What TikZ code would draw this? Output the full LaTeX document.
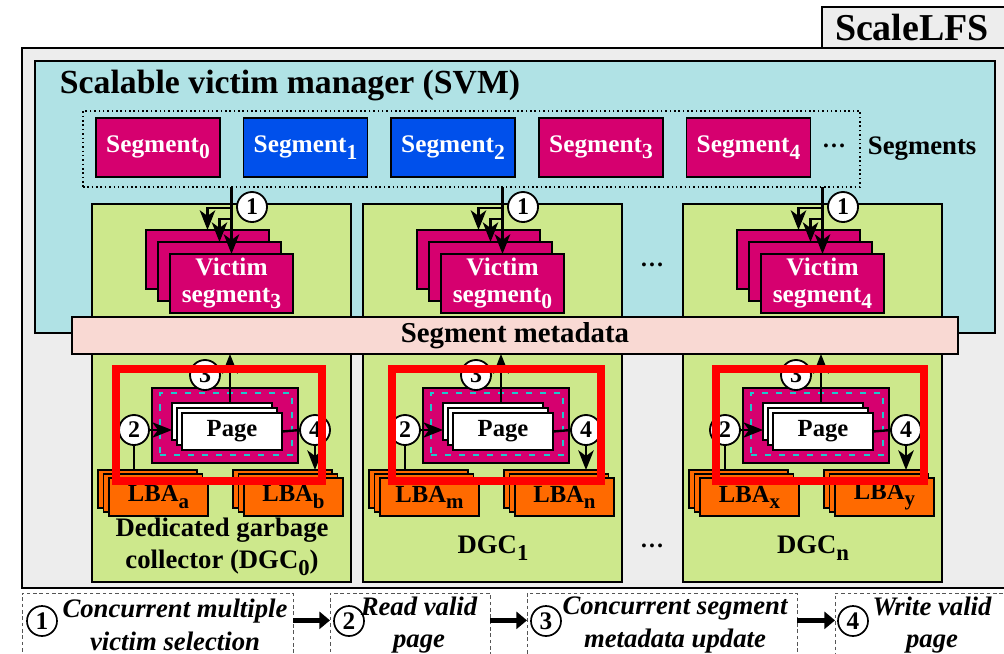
\documentclass[tikz,border=0pt]{standalone}
\usepackage{fontspec}
\setmainfont{Liberation Serif}
\usepackage{graphicx}
\usetikzlibrary{arrows.meta}
\definecolor{outerg}{HTML}{EDEDED}
\definecolor{svmc}{HTML}{B0E2E5}
\definecolor{dgcg}{HTML}{CDE88C}
\definecolor{metap}{HTML}{F9D9D3}
\definecolor{segm}{HTML}{D6006F}
\definecolor{segb}{HTML}{0050EB}
\definecolor{lbao}{HTML}{FF6A00}
\definecolor{dashc}{HTML}{1EC8CC}
\definecolor{legg}{HTML}{555555}
\newcommand\uu{0.025cm}
\newcommand\lsub[1]{\raisebox{-0.55ex}{\scalebox{0.85}{#1}}}
\tikzset{
  box/.style={draw=black, line width=1.3pt, inner sep=0pt, outer sep=0pt},
  segbox/.style={box, text=white, font=\bfseries\fontsize{18}{20}\selectfont, minimum width=124*\uu, minimum height=59*\uu},
  vict/.style={box, fill=segm, text=white, minimum width=123*\uu, minimum height=59*\uu, font=\bfseries\fontsize{18}{18}\selectfont, align=center},
  pagec/.style={box, line width=1pt, fill=white, minimum width=100*\uu, minimum height=37*\uu, font=\bfseries\fontsize{17.5}{19}\selectfont},
  lba/.style={box, line width=1pt, fill=lbao, minimum width=99*\uu, minimum height=38*\uu, font=\bfseries\fontsize{17.5}{19}\selectfont},
  num/.style={circle, draw, fill=white, line width=1.3pt, minimum size=30*\uu, inner sep=0pt, outer sep=0pt, font=\bfseries\fontsize{17}{17}\selectfont},
  lnum/.style={circle, draw, line width=1.2pt, minimum size=30*\uu, inner sep=0pt, font=\bfseries\fontsize{18}{18}\selectfont},
  conn/.style={draw=black, line width=1.7pt},
  flowarr/.style={draw=black, line width=1.7pt, -{Stealth[length=14pt,width=11pt,inset=4pt]}},
  bigarr/.style={line width=4pt, -{Triangle[length=7.5pt,width=12pt]}},
  legbox/.style={draw=legg, line width=0.7pt, dash pattern=on 2.5pt off 2pt, inner sep=0pt, outer sep=0pt},
  legtxt/.style={font=\bfseries\itshape\fontsize{19}{23}\selectfont, align=center},
  bigtxt/.style={font=\bfseries\fontsize{19}{23}\selectfont, align=center}
}
\begin{document}
\begin{tikzpicture}[x=0.025cm,y=-0.025cm]
\useasboundingbox (0,0) rectangle (1004,653);
\clip (0,0) rectangle (1004,653);
\fill[white] (0,0) rectangle (1004,653);

% ScaleLFS frame
\node[box, fill=outerg, minimum width=988*\uu, minimum height=540*\uu] (frame) at (516,318) {};
\node[box, fill=outerg, minimum width=193*\uu, minimum height=41*\uu] (lfsbox) at (918.5,27.5) {};
\node[font=\bfseries\fontsize{27}{27}\selectfont] (lfs) at (912,28) {ScaleLFS};

% SVM
\node[box, fill=svmc, minimum width=960*\uu, minimum height=272*\uu] (svm) at (515,197) {};
\node[anchor=west, font=\bfseries\fontsize{24}{24}\selectfont] (title) at (55,86) {Scalable victim manager (SVM)};

\node[draw=black, line width=1.1pt, dotted, minimum width=777*\uu, minimum height=76*\uu, inner sep=0pt, outer sep=0pt] (segbox) at (471.5,149) {};
\node[segbox, fill=segm] (s0) at (158,147.5) {Segment\lsub{0}};
\node[segbox, fill=segb] (s1) at (305.5,147.5) {Segment\lsub{1}};
\node[segbox, fill=segb] (s2) at (453,147.5) {Segment\lsub{2}};
\node[segbox, fill=segm] (s3) at (601,147.5) {Segment\lsub{3}};
\node[segbox, fill=segm] (s4) at (748.5,147.5) {Segment\lsub{4}};
\node[font=\bfseries\fontsize{17}{17}\selectfont] (sdots) at (834,146) {…};
\node[anchor=west, font=\bfseries\fontsize{19}{19}\selectfont] (segs) at (863,149) {Segments};

% DGC boxes and victim segments
\foreach \L/\i/\vs in {92/0/3, 363/1/0, 683/2/4}{
  \node[box, fill=dgcg, minimum width=259*\uu, minimum height=378*\uu] (dgc\i) at (\L+129.5,393) {};
  \node[vict] (vb\i) at (\L+115.5,259.5) {};
  \node[vict] (vm\i) at (\L+127.5,271.5) {};
  \node[vict] (vf\i) at (\L+139.5,283.5) {Victim\\[1pt]segment\lsub{\vs}};
  \coordinate (t\i) at (vf\i.north |- segbox.south);
  \coordinate (ba\i) at (\L+139.5,208);
  \coordinate (bb\i) at (\L+139.5,219);
  \draw[flowarr] (t\i) -- (vf\i.north);
  \draw[flowarr] (ba\i) -| (vb\i.north);
  \draw[flowarr] (bb\i) -| (vm\i.north);
  \node[num] (n1\i) at (\L+160,207) {1};
}
\node[font=\bfseries\fontsize{17}{17}\selectfont] (dots1) at (652,265) {…};
\node[font=\bfseries\fontsize{17}{17}\selectfont] (dots2) at (652,546) {…};

% Segment metadata
\node[box, fill=metap, minimum width=886*\uu, minimum height=37*\uu, font=\bfseries\fontsize{20.5}{21}\selectfont] (meta) at (515,335.5) {Segment metadata};

% lower part
\foreach \L/\i/\la/\lb/\txt/\ty in {92/0/a/b/{Dedicated garbage\\collector (DGC\lsub{0})}/547, 363/1/m/n/{DGC\lsub{1}}/548, 683/2/x/y/{DGC\lsub{n}}/548}{
  \node[box, fill=segm, minimum width=146*\uu, minimum height=75*\uu] (pb\i) at (\L+133,425.5) {};
  \node[draw=dashc, line width=2pt, dash pattern=on 4.3pt off 5.7pt, minimum width=132*\uu, minimum height=62*\uu, inner sep=0pt, outer sep=0pt] (pd\i) at (\L+134,424) {};
  \node[pagec] (pg1\i) at (\L+130,421.5) {};
  \node[pagec] (pg2\i) at (\L+135,426.5) {};
  \node[pagec] (pg3\i) at (\L+140,431.5) {Page};
  \node[lba] (la1\i) at (\L+55.5,489) {};
  \node[lba] (la2\i) at (\L+61,493) {};
  \node[lba] (la3\i) at (\L+66.5,497) {LBA\lsub{\la}};
  \node[lba] (lb1\i) at (\L+190.5,489) {};
  \node[lba] (lb2\i) at (\L+196,493) {};
  \node[lba] (lb3\i) at (\L+201.5,497) {LBA\lsub{\lb}};
  \node[num] (n2\i) at (\L+42,430) {2};
  \node[num] (n4\i) at (\L+223,430) {4};
  \node[num] (n3\i) at (\L+113,375) {3};
  \coordinate (c3\i) at (\L+138,403);
  \draw[flowarr] (c3\i) -- (c3\i |- meta.south);
  \draw[flowarr] (n2\i.east) -- (n2\i -| pg1\i.west);
  \draw[conn] (n2\i.south) -- (n2\i |- la1\i.north);
  \draw[conn] (pg3\i.east) -- (n4\i.west);
  \draw[flowarr] (n4\i.south) -- (n4\i |- lb1\i.north);
  \node[bigtxt] (dl\i) at (\L+130,\ty) {\txt};
}

% red highlight rectangles
\foreach \ra/\rb/\i in {116/322/0, 392/601/1, 716/924/2}{
  \draw[red, line width=5.7pt] (\ra,369) rectangle (\rb,481);
}

% legend
\node[legbox, minimum width=271*\uu, minimum height=80*\uu] (lg1) at (157.5,633) {};
\node[legbox, minimum width=160*\uu, minimum height=80*\uu] (lg2) at (410,633) {};
\node[legbox, minimum width=270*\uu, minimum height=80*\uu] (lg3) at (662,633) {};
\node[legbox, minimum width=180*\uu, minimum height=80*\uu] (lg4) at (925,633) {};
\draw[bigarr] ([yshift=9pt]lg1.east) -- ([yshift=9pt]lg2.west);
\draw[bigarr] ([yshift=9pt]lg2.east) -- ([yshift=9pt]lg3.west);
\draw[bigarr] ([yshift=9pt]lg3.east) -- ([yshift=9pt]lg4.west);
\node[lnum] (l1) at (42,621) {1};
\node[lnum] (l2) at (349,621) {2};
\node[lnum] (l3) at (546,621) {3};
\node[lnum] (l4) at (853,621) {4};
\node[legtxt] (lt1) at (175,625) {Concurrent multiple\\victim selection};
\node[legtxt] (lt2) at (419,625) {Read valid\\page};
\node[legtxt] (lt3) at (675,625) {Concurrent segment\\metadata update};
\node[legtxt] (lt4) at (932,625) {Write valid\\page};
\end{tikzpicture}
\end{document}
